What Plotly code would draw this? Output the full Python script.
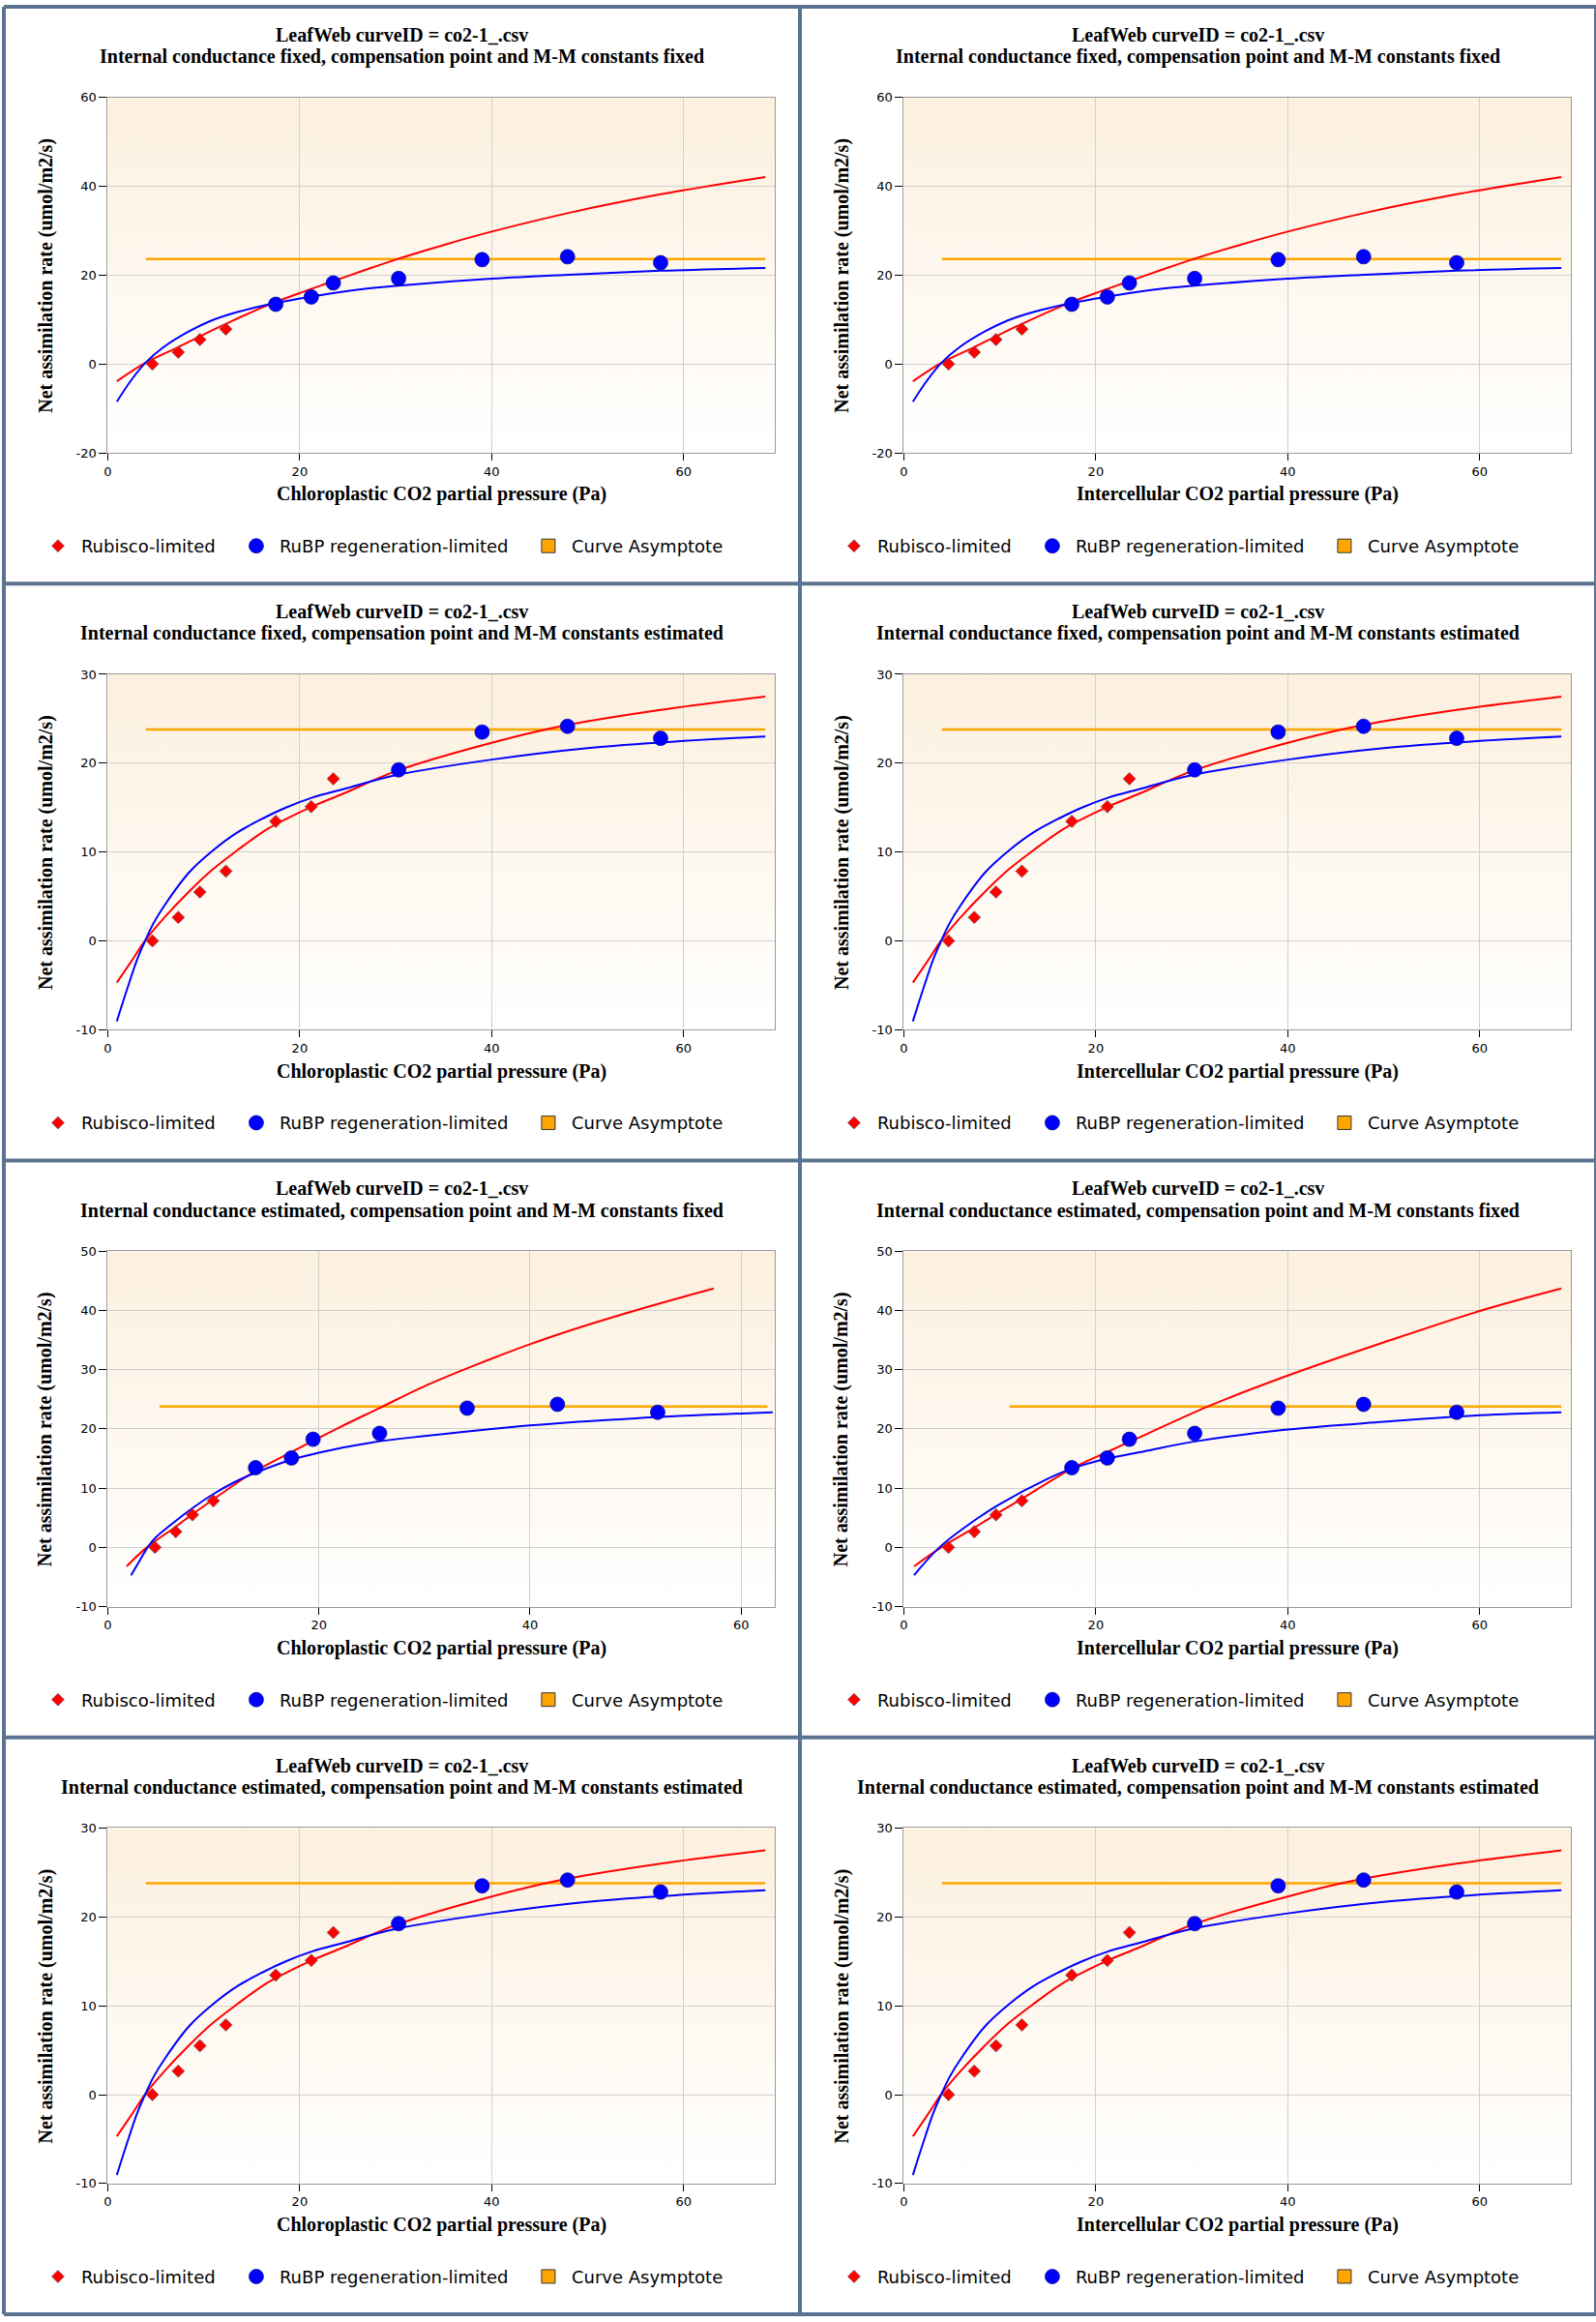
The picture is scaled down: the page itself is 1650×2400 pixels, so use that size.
import base64
import plotly.graph_objects as go

# ---- data read off the LeafWeb output ----
# measured A/Ci points (x values shift only where gi is estimated and Cc is plotted)
ci_obs = [4.65, 7.34, 9.6, 12.3, 17.5, 21.2, 23.5, 30.3, 39.0, 47.9, 57.6]
cc_obs_gi_est = [4.47, 6.44, 8.02, 10.0, 14.0, 17.4, 19.45, 25.75, 34.05, 42.6, 52.1]
a_obs = [0.0, 2.65, 5.5, 7.85, 13.45, 15.1, 18.25, 19.25, 23.5, 24.15, 22.8]

# fit A: gi fixed, compensation point and M-M constants fixed
fitA_rub_x = [0.94, 3.93, 7.33, 9.55, 12.27, 16.5, 19.9, 23.3, 26.6, 30.0, 35.0, 40.0, 48.0, 57.6, 68.5]
fitA_rub_y = [-3.9, 0.3, 3.8, 6.2, 9.0, 13.1, 15.9, 18.5, 21.0, 23.5, 26.8, 29.8, 34.0, 38.2, 42.1]
fitA_rubp_x = [0.94, 2.42, 3.93, 5.78, 8.47, 10.82, 13.5, 16.5, 19.9, 23.3, 26.6, 30.0, 40.0, 48.0, 57.6, 68.5]
fitA_rubp_y = [-8.5, -3.7, 0.3, 3.75, 7.36, 9.8, 11.7, 13.3, 14.7, 15.9, 16.9, 17.6, 19.2, 20.1, 21.0, 21.6]
fitA_asym_x = [3.96, 68.5]
fitA_asym_y = [23.65, 23.65]

# fit B: compensation point and M-M constants estimated (same for gi fixed / estimated)
fitB_rub_x = [0.94, 2.42, 3.93, 5.78, 8.47, 10.99, 13.5, 16.2, 18.55, 21.24, 24.6, 30.0, 40.0, 47.9, 57.6, 68.5]
fitB_rub_y = [-4.7, -2.35, 0.1, 2.5, 5.55, 8.1, 10.2, 12.3, 13.7, 15.1, 16.6, 19.1, 22.3, 24.3, 26.0, 27.5]
fitB_rubp_x = [0.94, 2.08, 3.09, 3.93, 4.77, 5.95, 8.47, 10.99, 13.5, 16.2, 18.55, 21.24, 24.6, 30.0, 40.0, 50.0, 60.0, 68.5]
fitB_rubp_y = [-9.05, -5.2, -2.0, 0.1, 2.0, 4.06, 7.7, 10.2, 12.2, 13.8, 15.0, 16.1, 17.1, 18.65, 20.4, 21.7, 22.5, 23.0]
fitB_asym_x = [3.96, 68.5]
fitB_asym_y = [23.8, 23.8]

# fit C: gi estimated, constants fixed, chloroplastic
fitC_rub_x = [1.78, 3.7, 6.44, 8.02, 10.0, 12.0, 14.0, 17.4, 19.45, 22.0, 25.6, 30.0, 35.0, 40.0, 45.0, 50.0, 57.4]
fitC_rub_y = [-3.2, 0.0, 3.5, 5.6, 8.1, 10.6, 12.9, 16.1, 18.0, 20.3, 23.4, 27.2, 30.9, 34.3, 37.3, 40.0, 43.7]
fitC_rubp_x = [2.2, 3.0, 3.7, 4.5, 6.0, 8.0, 10.0, 12.0, 14.0, 17.4, 20.0, 25.0, 30.0, 40.0, 50.0, 63.0]
fitC_rubp_y = [-4.7, -2.3, -0.2, 1.6, 3.85, 6.6, 9.0, 11.0, 12.6, 14.8, 16.0, 17.7, 18.8, 20.6, 21.8, 22.8]
fitC_asym_x = [4.9, 62.5]
fitC_asym_y = [23.8, 23.8]

# fit D: gi estimated, constants fixed, intercellular
fitD_rub_x = [1.06, 3.9, 7.34, 9.6, 12.3, 17.5, 21.2, 25.0, 31.7, 40.0, 50.0, 60.0, 68.5]
fitD_rub_y = [-3.2, 0.0, 3.3, 5.6, 8.2, 13.3, 16.1, 18.9, 23.8, 29.0, 34.6, 39.9, 43.7]
fitD_rubp_x = [1.06, 3.7, 7.0, 10.0, 15.0, 17.5, 21.2, 25.0, 30.0, 40.0, 50.0, 60.0, 68.5]
fitD_rubp_y = [-4.7, 0.0, 4.15, 7.3, 11.6, 13.3, 15.0, 16.2, 17.8, 19.9, 21.2, 22.3, 22.8]
fitD_asym_x = [11.0, 68.5]
fitD_asym_y = [23.8, 23.8]

x_ticks = [0, 20, 40, 60]
y_ticks_r1 = [-20, 0, 20, 40, 60]
y_ticks_r2 = [-10, 0, 10, 20, 30]
y_ticks_r3 = [-10, 0, 10, 20, 30, 40, 50]

title_top = "LeafWeb curveID = co2-1_.csv"
row_titles = [
    "Internal conductance fixed, compensation point and M-M constants fixed",
    "Internal conductance fixed, compensation point and M-M constants estimated",
    "Internal conductance estimated, compensation point and M-M constants fixed",
    "Internal conductance estimated, compensation point and M-M constants estimated",
]
x_titles = ["Chloroplastic CO2 partial pressure (Pa)", "Intercellular CO2 partial pressure (Pa)"]
y_title = "Net assimilation rate (umol/m2/s)"
legend_names = ["Rubisco-limited", "RuBP regeneration-limited", "Curve Asymptote"]

fitA = (fitA_rub_x, fitA_rub_y, fitA_rubp_x, fitA_rubp_y, fitA_asym_x, fitA_asym_y)
fitB = (fitB_rub_x, fitB_rub_y, fitB_rubp_x, fitB_rubp_y, fitB_asym_x, fitB_asym_y)
fitC = (fitC_rub_x, fitC_rub_y, fitC_rubp_x, fitC_rubp_y, fitC_asym_x, fitC_asym_y)
fitD = (fitD_rub_x, fitD_rub_y, fitD_rubp_x, fitD_rubp_y, fitD_asym_x, fitD_asym_y)

# (row, col, obs x, n rubisco-limited points, fit, x max, y ticks)
panels = [
    (0, 0, ci_obs, 4, fitA, 69.5, y_ticks_r1),
    (0, 1, ci_obs, 4, fitA, 69.5, y_ticks_r1),
    (1, 0, ci_obs, 7, fitB, 69.5, y_ticks_r2),
    (1, 1, ci_obs, 7, fitB, 69.5, y_ticks_r2),
    (2, 0, cc_obs_gi_est, 4, fitC, 63.2, y_ticks_r3),
    (2, 1, ci_obs, 4, fitD, 69.5, y_ticks_r3),
    (3, 0, ci_obs, 7, fitB, 69.5, y_ticks_r2),
    (3, 1, ci_obs, 7, fitB, 69.5, y_ticks_r2),
]

# ---- layout geometry (pixels) ----
W, H = 1650, 2400
PW, PH = 825, 600
PL, PR, PT, PB = 107.7, 799, 94.3, 464

serif = "Liberation Serif, Times New Roman, serif"
sans = "DejaVu Sans, Verdana, sans-serif"

grad_svg = ('<svg xmlns="http://www.w3.org/2000/svg" width="100" height="100" preserveAspectRatio="none">'
            '<defs><linearGradient id="g" x1="0" y1="0" x2="0" y2="1">'
            '<stop offset="0" stop-color="#FCF0DE"/><stop offset="1" stop-color="#FFFFFF"/>'
            '</linearGradient></defs><rect width="100" height="100" fill="url(#g)"/></svg>')
grad_src = "data:image/svg+xml;base64," + base64.b64encode(grad_svg.encode()).decode()


def px(x):
    return x / W


def py(y):
    return 1 - y / H


fig = go.Figure()
layout = dict(width=W, height=H, margin=dict(l=0, r=0, t=0, b=0),
              paper_bgcolor="white", plot_bgcolor="rgba(0,0,0,0)", showlegend=True)
annotations = []
images = []
shapes = []

for i, (r, c, xobs, nrub, fit, xmax, yt) in enumerate(panels):
    k = i + 1
    sfx = "" if k == 1 else str(k)
    xa, ya = "x" + sfx, "y" + sfx
    lg = "legend" + sfx
    ox, oy = c * PW, r * PH
    rub_x, rub_y, rubp_x, rubp_y, as_x, as_y = fit

    fig.add_trace(go.Scatter(x=as_x, y=as_y, mode="lines", line=dict(color="#FFA500", width=2.5),
                             xaxis=xa, yaxis=ya, showlegend=False, hoverinfo="skip"))
    fig.add_trace(go.Scatter(x=rub_x, y=rub_y, mode="lines", line=dict(color="#FF0000", width=2, shape="spline"),
                             xaxis=xa, yaxis=ya, showlegend=False))
    fig.add_trace(go.Scatter(x=rubp_x, y=rubp_y, mode="lines", line=dict(color="#0000FF", width=2, shape="spline"),
                             xaxis=xa, yaxis=ya, showlegend=False))
    fig.add_trace(go.Scatter(x=xobs[:nrub], y=a_obs[:nrub], mode="markers", name=legend_names[0],
                             marker=dict(symbol="diamond", size=10, color="#FF0000", line=dict(color="#666666", width=0.7)),
                             xaxis=xa, yaxis=ya, legend=lg, legendwidth=152))
    fig.add_trace(go.Scatter(x=xobs[nrub:], y=a_obs[nrub:], mode="markers", name=legend_names[1],
                             marker=dict(symbol="circle", size=15, color="#0000FF", line=dict(color="#00008B", width=0.7)),
                             xaxis=xa, yaxis=ya, legend=lg, legendwidth=249))
    fig.add_trace(go.Scatter(x=[None], y=[None], mode="markers", name=legend_names[2],
                             marker=dict(symbol="square", size=14, color="#FFA500", line=dict(color="#333333", width=1)),
                             xaxis=xa, yaxis=ya, legend=lg))

    xdom = [px(ox + PL), px(ox + PR)]
    ydom = [py(oy + PB), py(oy + PT)]
    common = dict(showline=True, linecolor="#999999", linewidth=1, mirror=True,
                  showgrid=True, gridcolor="#D0D0D0", gridwidth=1, zeroline=False,
                  ticks="outside", tickcolor="#000000", tickwidth=1,
                  tickfont=dict(family=sans, size=13, color="black"))
    layout["xaxis" + sfx] = dict(common, domain=xdom, anchor=ya, range=[0, xmax],
                                 tickvals=x_ticks, ticktext=[str(v) for v in x_ticks], ticklen=7)
    layout["yaxis" + sfx] = dict(common, domain=ydom, anchor=xa, range=[yt[0], yt[-1]],
                                 tickvals=yt, ticktext=[str(v) for v in yt], ticklen=8)
    layout[lg] = dict(orientation="h", x=px(ox + 32), xanchor="left", y=py(oy + 561), yanchor="middle",
                      font=dict(family=sans, size=18, color="black"), bgcolor="rgba(0,0,0,0)",
                      borderwidth=0, itemsizing="trace", itemwidth=38)

    images.append(dict(source=grad_src, xref="paper", yref="paper", x=xdom[0], y=ydom[1],
                       sizex=xdom[1] - xdom[0], sizey=ydom[1] - ydom[0], sizing="stretch",
                       xanchor="left", yanchor="top", layer="below"))

    annotations.append(dict(text="<b>" + title_top + "</b>", x=px(ox + PW / 2), y=py(oy + 29),
                            xref="paper", yref="paper", showarrow=False, xanchor="center", yanchor="middle",
                            font=dict(family=serif, size=20, color="black")))
    annotations.append(dict(text="<b>" + row_titles[r] + "</b>", x=px(ox + PW / 2), y=py(oy + 52),
                            xref="paper", yref="paper", showarrow=False, xanchor="center", yanchor="middle",
                            font=dict(family=serif, size=20, color="black")))
    annotations.append(dict(text="<b>" + x_titles[c] + "</b>", x=px(ox + (PL + PR) / 2), y=py(oy + 507),
                            xref="paper", yref="paper", showarrow=False, xanchor="center", yanchor="middle",
                            font=dict(family=serif, size=20, color="black")))
    annotations.append(dict(text="<b>" + y_title + "</b>", x=px(ox + 43.5), y=py(oy + (PT + PB) / 2),
                            xref="paper", yref="paper", showarrow=False, xanchor="center", yanchor="middle",
                            textangle=-90, font=dict(family=serif, size=20, color="black")))

# panel frame lines
frame = "#5B7290"
for xv in [0, PW, W]:
    shapes.append(dict(type="line", xref="paper", yref="paper", x0=px(xv), x1=px(xv), y0=0, y1=1,
                       line=dict(color=frame, width=4)))
for yv in [0, PH, 2 * PH, 3 * PH, H]:
    shapes.append(dict(type="line", xref="paper", yref="paper", x0=0, x1=1, y0=py(yv), y1=py(yv),
                       line=dict(color=frame, width=4)))

layout["annotations"] = annotations
layout["images"] = images
layout["shapes"] = shapes
fig.update_layout(**layout)

page_js = ("document.documentElement.style.margin='0px';document.body.style.margin='0px';"
           "document.body.style.padding='0px';document.body.style.overflow='hidden';"
           "var d=document.querySelector('.plotly-graph-div');"
           "d.style.position='absolute';d.style.left='0px';d.style.top='0px';")
fig.write_html("out.html", config={"displayModeBar": False}, post_script=page_js)
